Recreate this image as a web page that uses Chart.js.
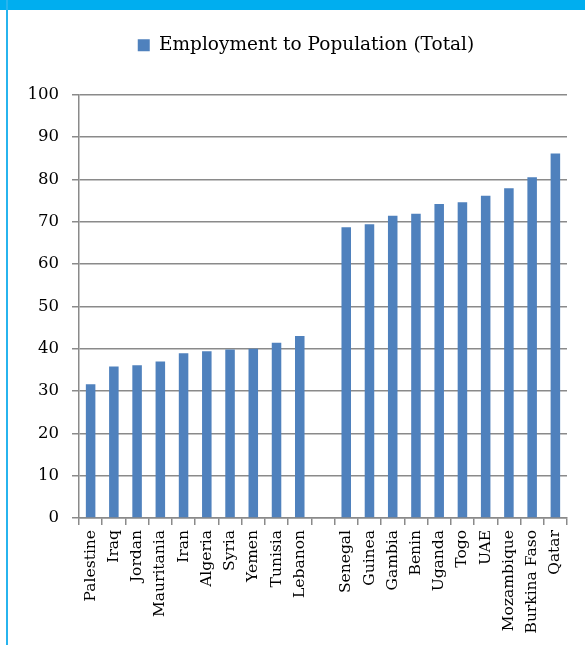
<!DOCTYPE html>
<html>
<head>
<meta charset="utf-8">
<script src="https://cdn.jsdelivr.net/npm/chart.js@4"></script>
<style>
  body { margin: 0; background: #fff; }
  #wrap { position: relative; width: 585px; height: 645px; overflow: hidden; }
  #c { position: absolute; left: 0; top: 0; }
  .band { position: absolute; left: 0; top: 0; width: 585px; height: 10px; background: #00aeef; }
  .side { position: absolute; left: 6px; top: 0; width: 2px; height: 645px; background: #27b4ee; }
</style>
</head>
<body>
<div id="wrap">
  <canvas id="c" width="585" height="645"></canvas>
  <div class="band"></div>
  <div class="side"></div>
</div>
<script>
// Countries (blank slot separates the two groups)
const countries = [
  'Palestine', 'Iraq', 'Jordan', 'Mauritania', 'Iran', 'Algeria', 'Syria', 'Yemen', 'Tunisia', 'Lebanon',
  '',
  'Senegal', 'Guinea', 'Gambia', 'Benin', 'Uganda', 'Togo', 'UAE', 'Mozambique', 'Burkina Faso', 'Qatar'
];

// Employment to population ratio, %
const employment = [
  31.6, 35.8, 36.1, 37.0, 38.9, 39.4, 39.8, 40.0, 41.4, 43.0,
  null,
  68.7, 69.4, 71.4, 71.9, 74.2, 74.6, 76.1, 77.9, 80.5, 86.1
];

const yTicks = [0, 10, 20, 30, 40, 50, 60, 70, 80, 90, 100];

const serif = 'DejaVu Serif';
const gridColor = '#8a8a8a';

var ctx = document.getElementById('c').getContext('2d');
var chart = new Chart(ctx, {
  type: 'bar',
  data: {
    labels: countries,
    datasets: [{
      label: 'Employment to Population (Total)',
      data: employment,
      backgroundColor: '#4f81bd',
      borderWidth: 0,
      categoryPercentage: 1,
      barPercentage: 0.41
    }]
  },
  options: {
    responsive: false,
    animation: false,
    layout: { padding: { top: 10, left: 27, right: 0, bottom: 0 } },
    plugins: {
      legend: {
        position: 'top',
        labels: {
          color: '#000',
          font: { family: serif, size: 18.5 },
          boxWidth: 12,
          boxHeight: 12,
          padding: 26
        }
      },
      // empty spacer between legend and plot
      title: {
        display: true,
        text: ' ',
        weight: 500,
        font: { size: 1 },
        padding: { top: 29, bottom: 0 }
      },
      tooltip: { enabled: false }
    },
    scales: {
      x: {
        grid: {
          offset: true,
          drawOnChartArea: false,
          drawTicks: true,
          tickLength: 7,
          color: gridColor,
          lineWidth: 1.5
        },
        border: { color: gridColor, width: 1.5 },
        ticks: {
          autoSkip: false,
          maxRotation: 90,
          minRotation: 90,
          padding: 5,
          color: '#000',
          font: { family: serif, size: 15.5 }
        },
        afterFit: function (axis) { axis.height = 127; }
      },
      y: {
        min: 0,
        max: 100,
        afterBuildTicks: function (axis) {
          axis.ticks = yTicks.map(v => ({ value: v }));
        },
        grid: {
          color: gridColor,
          lineWidth: 1.5,
          tickLength: 7
        },
        border: { color: gridColor, width: 1.5 },
        ticks: {
          padding: 13,
          color: '#000',
          font: { family: serif, size: 16.5 }
        },
        afterFit: function (axis) { axis.width = 52; }
      },
      // empty strip on the right, keeps the plot off the edge
      yRight: {
        position: 'right',
        display: true,
        grid: { display: false },
        border: { display: false },
        ticks: { display: false },
        afterFit: function (axis) { axis.width = 18; }
      }
    }
  }
});
</script>
</body>
</html>
